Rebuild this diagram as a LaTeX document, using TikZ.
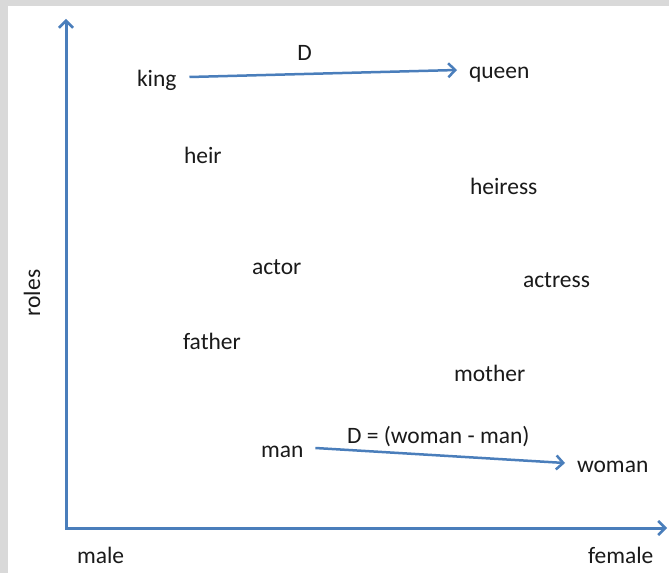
\documentclass[tikz,border=0pt]{standalone}
\usepackage{fontspec}
\setmainfont{Carlito}
\usetikzlibrary{arrows.meta}
\definecolor{axisblue}{HTML}{4A7EBB}
\definecolor{framegray}{HTML}{D9D9D9}
\definecolor{txt}{HTML}{1A1A1A}
\begin{document}
\begin{tikzpicture}[x=1bp,y=-1bp,
  lbl/.style={inner sep=0pt, outer sep=0pt, text height=16bp, text depth=5bp,
    font=\fontsize{23.5bp}{27bp}\selectfont, text=txt, anchor=base west},
  barb/.tip={Straight Barb[length=7bp,width=14bp,line width=2.5bp]},
  vec/.style={draw=axisblue, line width=2.5bp, -barb},
  axisline/.style={draw=axisblue, line width=3bp, barb-barb, line join=miter}]
\useasboundingbox (0,0) rectangle (669,573);
\fill[framegray] (0,0) rectangle (669,573);
\fill[white] (8,6) rectangle (669,573);

% axes
\coordinate (ytip) at (66,19);
\coordinate (orig) at (66,528);
\coordinate (xtip) at (667,528);
\draw[axisline] (ytip) -- (orig) -- (xtip);

% axis labels
\node[lbl, anchor=base, rotate=90] (roles) at (40,293) {roles};
\node[lbl] (male) at (77,563) {male};
\node[lbl] (female) at (588,563) {female};

% words
\node[lbl] (king) at (137,87) {king};
\node[lbl] (queen) at (469,79) {queen};
\node[lbl] (heir) at (184,164) {heir};
\node[lbl] (heiress) at (470,195) {heiress};
\node[lbl] (actor) at (252,274) {actor};
\node[lbl] (actress) at (523,287) {actress};
\node[lbl] (father) at (183,349) {father};
\node[lbl] (mother) at (454,381) {mother};
\node[lbl] (man) at (261,457) {man};
\node[lbl] (woman) at (577,472) {woman};

% difference vectors
\draw[vec] ([xshift=13bp,yshift=4.5bp]king.east) -- ([xshift=-12bp,yshift=3.5bp]queen.west)
  node[lbl, anchor=base, pos=0.43, yshift=13bp] (dlabel) {D};
\draw[vec] ([xshift=12bp,yshift=3.5bp]man.east) -- ([xshift=-12bp,yshift=3.5bp]woman.west);
\node[lbl] (dwm) at (347,443) {D = (woman - man)};
\end{tikzpicture}
\end{document}
